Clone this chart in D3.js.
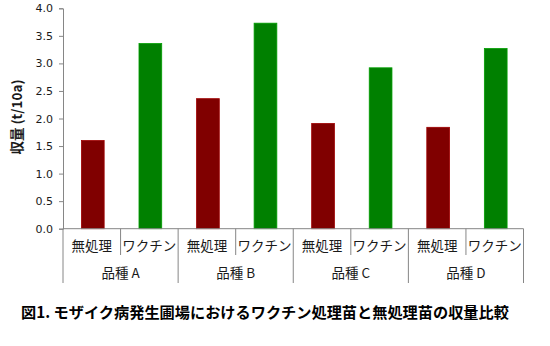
<!DOCTYPE html>
<html>
<head>
<meta charset="utf-8">
<script src="https://cdn.jsdelivr.net/npm/d3@7/dist/d3.min.js"></script>
<style>
  html, body { margin: 0; padding: 0; background: #fff; }
  svg { display: block; }
</style>
</head>
<body>
<svg id="chart" width="550" height="346"></svg>
<script>
// Yield per variety, untreated vs. vaccinated seedlings
const varieties = ["品種 A", "品種 B", "品種 C", "品種 D"];
const treatments = ["無処理", "ワクチン"];
const untreated = [1.60, 2.36, 1.91, 1.84];
const vaccine = [3.36, 3.73, 2.92, 3.27];
const yTicks = [0, 0.5, 1.0, 1.5, 2.0, 2.5, 3.0, 3.5, 4.0];
const colors = { "無処理": "#800000", "ワクチン": "#008000" };

const rows = [];
varieties.forEach((v, i) => {
  rows.push({ variety: v, treatment: treatments[0], value: untreated[i] });
  rows.push({ variety: v, treatment: treatments[1], value: vaccine[i] });
});

const svg = d3.select("#chart");
const plot = { left: 63, right: 523.5, top: 8.3, bottom: 228.7 };

const y = d3.scaleLinear().domain([0, 4]).range([plot.bottom, plot.top]);
const xGroup = d3.scaleBand().domain(varieties).range([plot.left, plot.right]).padding(0);
const xSub = d3.scaleBand().domain(treatments).range([0, xGroup.bandwidth()]).padding(0);

const axisColor = "#868686";
const jp = "'Noto Sans CJK JP', 'Noto Sans', sans-serif";

// y axis
const yAxis = svg.append("g")
  .attr("transform", `translate(${plot.left},0)`)
  .call(d3.axisLeft(y).tickValues(yTicks).tickFormat(d3.format(".1f")).tickSizeOuter(0).tickSize(4).tickPadding(6));
yAxis.select(".domain").attr("stroke", axisColor);
yAxis.selectAll(".tick line").attr("stroke", axisColor);
yAxis.selectAll(".tick text")
  .attr("font-family", "'DejaVu Sans', Verdana, sans-serif")
  .attr("font-size", 11)
  .attr("fill", "#1a1a1a");

// bars
svg.append("g").selectAll("rect")
  .data(rows)
  .join("rect")
  .attr("x", d => xGroup(d.variety) + xSub(d.treatment) + xSub.bandwidth() * 0.32)
  .attr("width", xSub.bandwidth() * 0.395)
  .attr("y", d => y(d.value))
  .attr("height", d => y(0) - y(d.value))
  .attr("fill", d => colors[d.treatment])
  .attr("stroke", d => d3.color(colors[d.treatment]).brighter(0.6))
  .attr("stroke-width", 0.8);

// x axis baseline
svg.append("line")
  .attr("x1", plot.left).attr("x2", plot.right)
  .attr("y1", plot.bottom).attr("y2", plot.bottom)
  .attr("stroke", axisColor);

// separators between treatments (short) and varieties (long)
varieties.forEach(v => {
  const sx = xGroup(v) + xSub.bandwidth();
  svg.append("line")
    .attr("x1", sx).attr("x2", sx)
    .attr("y1", plot.bottom).attr("y2", 255)
    .attr("stroke", axisColor);
});
[...varieties.map(v => xGroup(v)), plot.right].forEach(gx => {
  svg.append("line")
    .attr("x1", gx).attr("x2", gx)
    .attr("y1", plot.bottom).attr("y2", 283)
    .attr("stroke", axisColor);
});

// treatment labels
rows.forEach(d => {
  svg.append("text")
    .attr("x", xGroup(d.variety) + xSub(d.treatment) + xSub.bandwidth() / 2)
    .attr("y", 251)
    .attr("text-anchor", "middle")
    .attr("font-family", jp)
    .attr("font-size", 13.5)
    .attr("fill", "#1a1a1a")
    .text(d.treatment);
});

// variety labels
varieties.forEach(v => {
  svg.append("text")
    .attr("x", xGroup(v) + xGroup.bandwidth() / 2)
    .attr("y", 278)
    .attr("text-anchor", "middle")
    .attr("font-family", jp)
    .attr("font-size", 13.5)
    .attr("fill", "#1a1a1a")
    .text(v);
});

// y axis title
svg.append("text")
  .attr("transform", `translate(22,117) rotate(-90)`)
  .attr("text-anchor", "middle")
  .attr("font-family", jp)
  .attr("font-size", 13.5)
  .attr("font-weight", "bold")
  .attr("fill", "#1a1a1a")
  .text("収量 (t/10a)");

// figure caption
svg.append("text")
  .attr("x", 265)
  .attr("y", 318)
  .attr("text-anchor", "middle")
  .attr("font-family", jp)
  .attr("font-size", 15.2)
  .attr("font-weight", "bold")
  .attr("fill", "#000")
  .text("図1. モザイク病発生圃場におけるワクチン処理苗と無処理苗の収量比較");
</script>
</body>
</html>
